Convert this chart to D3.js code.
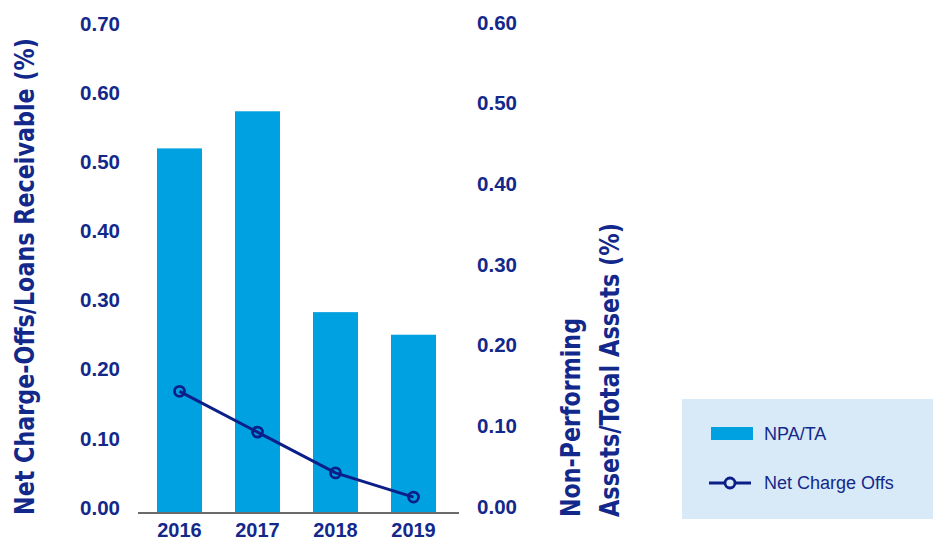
<!DOCTYPE html>
<html>
<head>
<meta charset="utf-8">
<script src="https://cdn.jsdelivr.net/npm/d3@7"></script>
<style>
  html, body { margin: 0; padding: 0; background: #ffffff; }
  svg { display: block; }
</style>
</head>
<body>
<svg id="chart" width="933" height="542"></svg>
<script>
// ---- data ----
const years = ["2016", "2017", "2018", "2019"];
const npaTA = [0.452, 0.498, 0.249, 0.221];          // bars, right axis (%)
const netChargeOffs = [0.176, 0.117, 0.058, 0.023];  // line, left axis (%)
const leftTicks = [0, 0.1, 0.2, 0.3, 0.4, 0.5, 0.6, 0.7];
const rightTicks = [0, 0.1, 0.2, 0.3, 0.4, 0.5, 0.6];
const leftTitle = "Net Charge-Offs/Loans Receivable (%)";
const rightTitle = ["Non-Performing", "Assets/Total Assets (%)"];
const legendLabels = ["NPA/TA", "Net Charge Offs"];

// ---- styles ----
const NAVY = "#13288b";
const LINE = "#0c1e88";
const BAR = "#00a1e0";
const TITLE_FONT = "'Liberation Sans Narrow', 'DejaVu Sans Condensed', 'Liberation Sans', Arial, sans-serif";
const FONT = "'Liberation Sans', Arial, Helvetica, sans-serif";

const svg = d3.select("#chart");

const x = d3.scaleBand().domain(years).range([124, 469]).padding(0.423);
const yLeft = d3.scaleLinear().domain([0, 0.7]).range([513, 29]);
const yRight = d3.scaleLinear().domain([0, 0.6]).range([513, 29]);

// bars
svg.append("g").selectAll("rect")
  .data(years)
  .join("rect")
  .attr("x", d => x(d))
  .attr("width", x.bandwidth())
  .attr("y", (d, i) => yRight(npaTA[i]))
  .attr("height", (d, i) => yRight(0) - yRight(npaTA[i]))
  .attr("fill", BAR);

// baseline
svg.append("line")
  .attr("x1", 138).attr("x2", 459)
  .attr("y1", yLeft(0)).attr("y2", yLeft(0))
  .attr("stroke", "#6b6b6b").attr("stroke-width", 2);

// left axis
const leftAxis = svg.append("g")
  .attr("transform", "translate(120,0)")
  .call(d3.axisLeft(yLeft).tickValues(leftTicks).tickFormat(d3.format(".2f")).tickSize(0).tickPadding(0));
leftAxis.select(".domain").remove();
leftAxis.selectAll("text")
  .attr("dy", "0.35em")
  .attr("y", -6)
  .attr("fill", NAVY)
  .style("font-family", FONT)
  .style("font-weight", "bold")
  .style("font-size", "20.5px");

// right axis
const rightAxis = svg.append("g")
  .attr("transform", "translate(517,0)")
  .call(d3.axisLeft(yRight).tickValues(rightTicks).tickFormat(d3.format(".2f")).tickSize(0).tickPadding(0));
rightAxis.select(".domain").remove();
rightAxis.selectAll("text")
  .attr("dy", "0.35em")
  .attr("y", -7)
  .attr("fill", NAVY)
  .style("font-family", FONT)
  .style("font-weight", "bold")
  .style("font-size", "20.5px");

// x axis labels
const xAxis = svg.append("g")
  .attr("transform", "translate(0,537)")
  .call(d3.axisBottom(x).tickSize(0).tickPadding(0));
xAxis.select(".domain").remove();
xAxis.selectAll("text")
  .attr("y", 0)
  .attr("dy", "0")
  .attr("fill", NAVY)
  .style("font-family", FONT)
  .style("font-weight", "bold")
  .style("font-size", "20px");

// line
const lineGen = d3.line()
  .x((d, i) => x(years[i]) + x.bandwidth() / 2)
  .y(d => yLeft(d));
svg.append("path")
  .datum(netChargeOffs)
  .attr("d", lineGen)
  .attr("fill", "none")
  .attr("stroke", LINE)
  .attr("stroke-width", 3);
svg.append("g").selectAll("circle")
  .data(netChargeOffs)
  .join("circle")
  .attr("cx", (d, i) => x(years[i]) + x.bandwidth() / 2)
  .attr("cy", d => yLeft(d))
  .attr("r", 5)
  .attr("fill", "none")
  .attr("stroke", LINE)
  .attr("stroke-width", 2.8);

// axis titles
svg.append("text")
  .attr("transform", "translate(34,515) rotate(-90)")
  .attr("text-anchor", "start")
  .attr("textLength", 477)
  .attr("lengthAdjust", "spacingAndGlyphs")
  .attr("fill", NAVY)
  .style("font-family", TITLE_FONT)
  .style("font-weight", "bold")
  .style("font-size", "26px")
  .text(leftTitle);

const rtLens = [199, 294];
const rtX = [580, 619];
rightTitle.forEach((t, i) => {
  svg.append("text")
    .attr("transform", `translate(${rtX[i]},517) rotate(-90)`)
    .attr("text-anchor", "start")
    .attr("textLength", rtLens[i])
    .attr("lengthAdjust", "spacingAndGlyphs")
    .attr("fill", NAVY)
    .style("font-family", TITLE_FONT)
    .style("font-weight", "bold")
    .style("font-size", "27px")
    .text(t);
});

// legend
const lg = svg.append("g");
lg.append("rect")
  .attr("x", 682).attr("y", 399).attr("width", 251).attr("height", 120)
  .attr("fill", "#d8eaf8");
lg.append("rect")
  .attr("x", 711).attr("y", 427).attr("width", 42).attr("height", 13)
  .attr("fill", BAR);
lg.append("line")
  .attr("x1", 709).attr("x2", 751).attr("y1", 483).attr("y2", 483)
  .attr("stroke", LINE).attr("stroke-width", 3);
lg.append("circle")
  .attr("cx", 730).attr("cy", 483).attr("r", 5)
  .attr("fill", "#d8eaf8").attr("stroke", LINE).attr("stroke-width", 2.8);
lg.selectAll("text.leg")
  .data(legendLabels)
  .join("text")
  .attr("class", "leg")
  .attr("x", 764)
  .attr("y", (d, i) => i === 0 ? 434 : 483)
  .attr("dy", "0.35em")
  .attr("fill", NAVY)
  .style("font-family", FONT)
  .style("font-size", "18px")
  .text(d => d);
</script>
</body>
</html>
